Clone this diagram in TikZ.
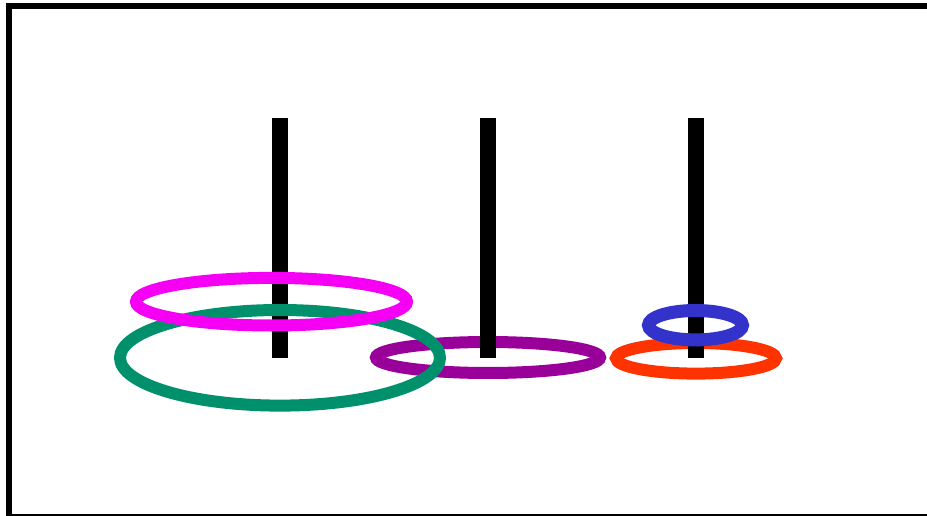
\documentclass[tikz,border=0pt]{standalone}
\usepackage{tikz}
\definecolor{RingGreen}{HTML}{00906B}
\definecolor{RingPink}{HTML}{F500F5}
\definecolor{RingPurple}{HTML}{990099}
\definecolor{RingRed}{HTML}{FF3300}
\definecolor{RingBlue}{HTML}{3333CC}

\begin{document}
\begin{tikzpicture}[
    x=1pt, y=-1pt,
    ring/.style={
      draw=#1,
      line width=12pt
    },
    pole/.style={
      draw=black,
      line width=16pt
    },
    frame/.style={
      draw=black,
      line width=6pt
    }
  ]

  \useasboundingbox (0,0) rectangle (927,516);
  \clip (0,0) rectangle (927,516);

  % Frame
  \draw[frame] (8.5,6) rectangle (940,517);

  % Rings behind the poles
  \draw[ring=RingPurple] (488,357.5) ellipse [x radius=112, y radius=15.5];
  \draw[ring=RingRed]    (696,358.3) ellipse [x radius=80, y radius=15.3];

  % Poles
  \foreach \px in {280,488,696}
    \draw[pole] (\px,118) -- (\px,357.7);

  % Rings in front of the poles
  \draw[ring=RingGreen] (280,357.8) ellipse [x radius=160, y radius=47.8];
  \draw[ring=RingPink]  (271.5,301.7) ellipse [x radius=135.5, y radius=23.8];
  \draw[ring=RingBlue,line width=13pt] (695.5,325.2) ellipse [x radius=47, y radius=14.7];

\end{tikzpicture}
\end{document}
